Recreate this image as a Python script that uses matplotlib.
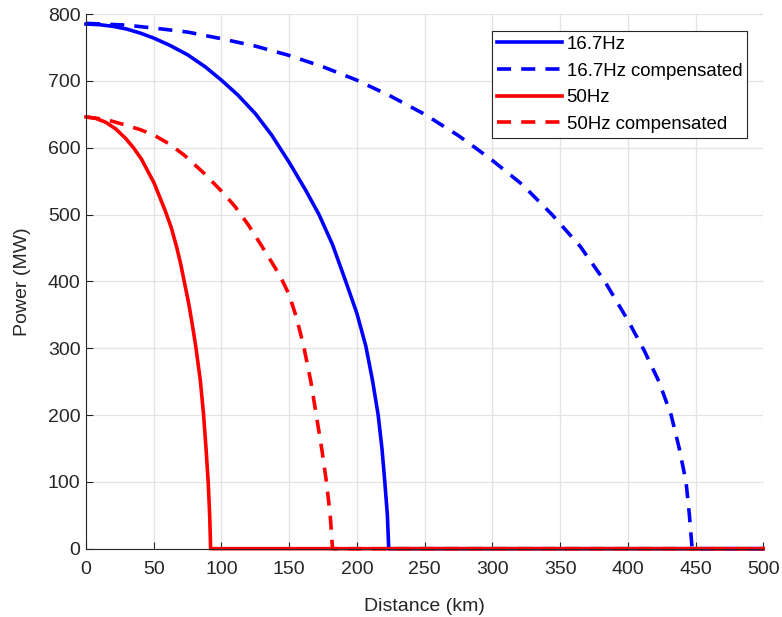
import numpy as np
import matplotlib
matplotlib.use("Agg")
import matplotlib.pyplot as plt

plt.rcParams['font.family'] = ['Liberation Sans', 'DejaVu Sans']

# values (distance in km, power in MW)
d_167 = [0, 10, 20, 30, 40, 50, 62, 75, 88, 100, 112, 125, 137, 150, 162, 172,
         182, 191.4, 200, 206.6, 211.5, 215.7, 218.5, 220.6, 222.5, 223.5, 500]
p_167 = [785, 784, 781.5, 777.5, 771.5, 764, 753, 739, 721, 701, 679, 651, 619,
         578, 537, 500, 455, 402, 352, 303, 252, 200, 150, 100, 50, 0, 0]

d_167c = [0, 29, 50, 75, 100, 125, 150, 175, 200, 225, 250, 275, 288, 300, 322,
          344, 365, 383, 400, 412, 423, 432, 438, 443, 445.5, 447.5, 500]
p_167c = [786, 783.5, 779, 773, 763, 752, 738, 721, 701, 677, 650, 618, 599,
          581, 545, 500, 452, 400, 342, 297, 250, 200, 150, 100, 50, 0, 0]

d_50 = [0, 7, 14.6, 22, 29.2, 35, 40.9, 50.3, 58.4, 63, 67.2, 70, 72.5, 76,
        79.3, 81.2, 84.5, 86.8, 88.6, 90.2, 91.3, 92, 500]
p_50 = [646, 644, 638, 628, 614, 600, 583, 547, 506, 480, 449, 425, 400, 365,
        325, 300, 250, 200, 150, 100, 50, 0, 0]

d_50c = [0, 15, 29, 40, 50, 62, 73, 87, 100, 110, 120, 130, 140, 144, 150, 155,
         158, 161, 166, 170, 174, 177.5, 180.3, 182, 500]
p_50c = [646, 642, 634, 627, 619, 605, 588, 562, 535, 512, 484, 452, 419, 405,
         380, 348, 325, 300, 250, 200, 150, 100, 50, 0, 0]

labels = ['16.7Hz', '16.7Hz compensated', '50Hz', '50Hz compensated']

fig = plt.figure(figsize=(7.82, 6.17), dpi=100)
ax = fig.add_axes([0.110, 0.1107, 0.866, 0.8666])

dash = (0, (3.9, 2.8))
lw = 2.6
kw = dict(lw=lw, clip_on=False, solid_joinstyle='round', dash_joinstyle='round')
ax.plot(d_167, p_167, color=(0, 0, 1), label=labels[0], **kw)
ax.plot(d_167c, p_167c, color=(0, 0, 1), ls=dash, label=labels[1], **kw)
ax.plot(d_50, p_50, color=(1, 0, 0), label=labels[2], **kw)
ax.plot(d_50c, p_50c, color=(1, 0, 0), ls=dash, label=labels[3], **kw)

ax.set_xlim(0, 500)
ax.set_ylim(0, 800)
ax.set_xticks(np.arange(0, 501, 50))
ax.set_yticks(np.arange(0, 801, 100))
ax.grid(True, color='#e3e3e3', lw=0.9)
ax.set_axisbelow(True)

for s in ['top', 'right']:
    ax.spines[s].set_visible(False)
for s in ['left', 'bottom']:
    ax.spines[s].set_color('#262626')
    ax.spines[s].set_linewidth(0.8)

ax.tick_params(direction='in', length=5, width=0.8, colors='#262626',
               labelsize=14)
ax.tick_params(axis='x', pad=9)
ax.tick_params(axis='y', pad=4)
ax.set_xlabel('Distance (km)', fontsize=14, color='#262626', labelpad=14)
ax.set_ylabel('Power (MW)', fontsize=14, color='#262626', labelpad=12)

leg = ax.legend(loc='upper right', bbox_to_anchor=(0.976, 0.968), fontsize=13.4,
                handlelength=3.5, handletextpad=0.25, labelspacing=0.52,
                borderpad=0.25, borderaxespad=0, fancybox=False, framealpha=1)
leg.get_frame().set_edgecolor('#262626')
leg.get_frame().set_linewidth(0.8)

fig.savefig('out.png', dpi=100)
